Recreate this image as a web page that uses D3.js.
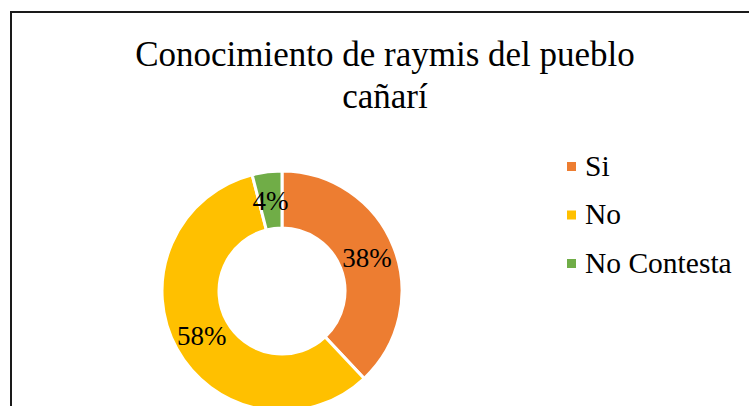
<!DOCTYPE html>
<html>
<head>
<meta charset="utf-8">
<script src="https://cdn.jsdelivr.net/npm/d3@7"></script>
<style>
  body { margin: 0; background: #fff; }
  svg { display: block; }
  text { font-family: "Liberation Serif", "Times New Roman", serif; fill: #000; }
</style>
</head>
<body>
<script>
// chart data
var categories = ["Si", "No", "No Contesta"];
var values = [38, 58, 4];
var colors = ["#ED7D31", "#FFC000", "#70AD47"];
var titleLines = ["Conocimiento de raymis del pueblo", "cañarí"];

var width = 749, height = 406;

var svg = d3.select("body").append("svg")
    .attr("width", width)
    .attr("height", height);

// chart frame (runs off the right and bottom edges)
svg.append("rect")
    .attr("x", 11)
    .attr("y", 12)
    .attr("width", 800)
    .attr("height", 500)
    .attr("fill", "none")
    .attr("stroke", "#1a1a1a")
    .attr("stroke-width", 2);

// title
svg.append("g").selectAll("text")
    .data(titleLines)
  .enter().append("text")
    .attr("x", 385)
    .attr("y", function(d, i) { return 66 + i * 42; })
    .attr("text-anchor", "middle")
    .style("font-size", "35px")
    .text(function(d) { return d; });

// donut
var cx = 282, cy = 291, outerR = 120, innerR = 63;

var color = d3.scaleOrdinal().domain(categories).range(colors);

var pie = d3.pie().sort(null).value(function(d) { return d.value; });
var data = categories.map(function(c, i) { return {name: c, value: values[i]}; });
var arcs = pie(data);
var total = d3.sum(values);

var arc = d3.arc().innerRadius(innerR).outerRadius(outerR);

var g = svg.append("g")
    .attr("transform", "translate(" + cx + "," + cy + ")");

g.selectAll("path")
    .data(arcs)
  .enter().append("path")
    .attr("d", arc)
    .attr("fill", function(d) { return color(d.data.name); })
    .attr("stroke", "#fff")
    .attr("stroke-width", 3)
    .attr("stroke-linejoin", "miter");

g.selectAll("text.label")
    .data(arcs)
  .enter().append("text")
    .attr("class", "label")
    .attr("transform", function(d) {
      var c = arc.centroid(d);
      return "translate(" + c[0] + "," + c[1] + ")";
    })
    .attr("text-anchor", "middle")
    .attr("dy", "0.35em")
    .style("font-size", "27px")
    .text(function(d) { return Math.round(d.data.value / total * 100) + "%"; });

// legend
var legend = svg.append("g")
    .attr("transform", "translate(567,162)");

var item = legend.selectAll("g")
    .data(categories)
  .enter().append("g")
    .attr("transform", function(d, i) { return "translate(0," + (i * 48.5) + ")"; });

item.append("rect")
    .attr("width", 9)
    .attr("height", 9)
    .attr("fill", function(d) { return color(d); });

item.append("text")
    .attr("x", 18)
    .attr("y", 13.5)
    .style("font-size", "29.5px")
    .text(function(d) { return d; });
</script>
</body>
</html>
